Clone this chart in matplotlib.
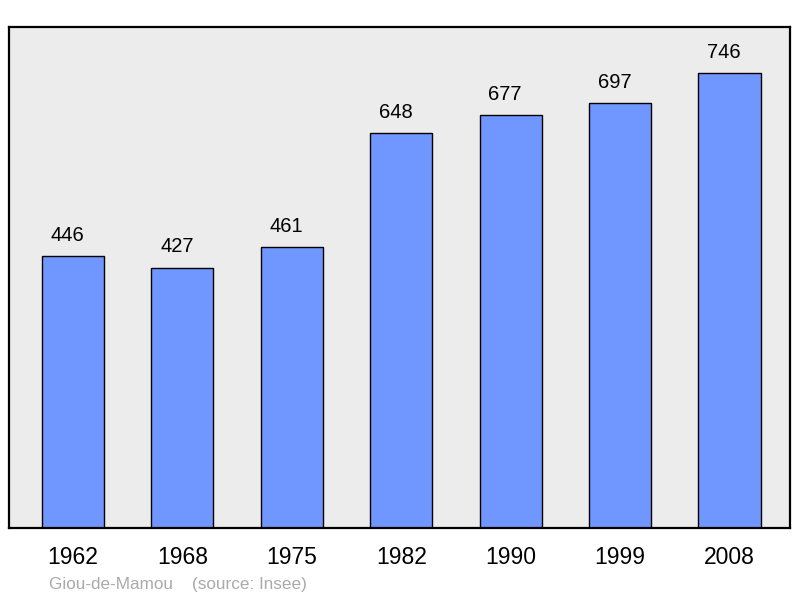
"""Population history bar chart for Giou-de-Mamou."""

from matplotlib import pyplot

years = ['1962', '1968', '1975', '1982', '1990', '1999', '2008']
population = [446, 427, 461, 648, 677, 697, 746]

pyplot.rc('font', family=['Liberation Sans', 'DejaVu Sans'])
fig = pyplot.figure(figsize=(8.0, 5.98), dpi=100)
ax = fig.add_axes([9 / 800, 70 / 598, 781 / 800, 501 / 598])
ax.set_facecolor('#ececec')

positions = range(len(years))
ax.bar(positions, population, width=0.567, color='#7096ff',
       edgecolor='black', linewidth=1.0, zorder=2)
for xi, value in zip(positions, population):
    ax.annotate(str(value), (xi, value), xytext=(-4, 8),
                textcoords='offset points', ha='center', va='bottom',
                fontsize=14.5)

ax.set_xlim(-0.585, 6.553)
ax.set_ylim(0, 821.4)
ax.set_xticks(list(positions))
ax.set_xticklabels(years, fontsize=16.5)
ax.tick_params(axis='x', length=0, pad=13)
ax.set_yticks([])
for spine in ax.spines.values():
    spine.set_linewidth(1.6)

fig.text(49 / 800, 1 - 584 / 598, 'Giou-de-Mamou    (source: Insee)',
         fontsize=12.3, color='#aaaaaa', va='center', ha='left')

fig.savefig('out.png', dpi=100)
